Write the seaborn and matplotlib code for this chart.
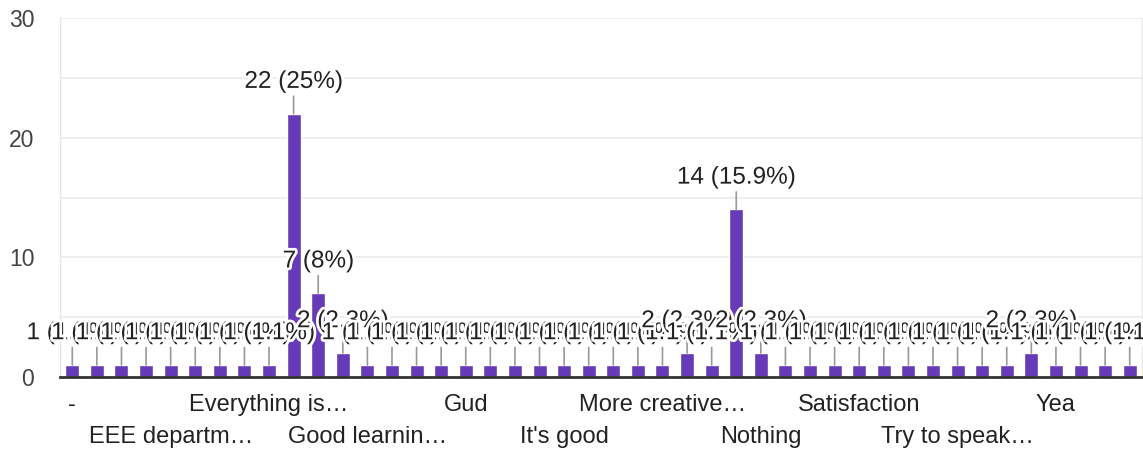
import matplotlib
matplotlib.use("Agg")
import matplotlib.pyplot as plt
import matplotlib.patheffects as pe
import seaborn as sns

# response counts, one per answer (alphabetical order as in the form summary)
counts = [1, 1, 1, 1, 1, 1, 1, 1, 1, 22,
          7, 2, 1, 1, 1, 1, 1, 1, 1, 1,
          1, 1, 1, 1, 1, 2, 1, 14, 2, 1,
          1, 1, 1, 1, 1, 1, 1, 1, 1, 2,
          1, 1, 1, 1]
respondents = 88

# only every 4th answer gets a label on the axis
tick_labels = ["-", "EEE departm…", "Everything is…", "Good learnin…", "Gud",
               "It's good", "More creative…", "Nothing", "Satisfaction",
               "Try to speak…", "Yea"]
tick_step = 4

purple = "#673ab7"

sns.set_theme(style="white")
plt.rcParams["font.family"] = ["Liberation Sans", "DejaVu Sans"]

fig = plt.figure(figsize=(11.43, 4.51), dpi=100)
ax = fig.add_axes([60 / 1143, 1 - 377 / 451, (1142 - 60) / 1143, (377 - 18) / 451])

positions = list(range(len(counts)))
sns.barplot(x=positions, y=counts, color=purple, saturation=1, width=0.57, ax=ax)

ax.set_xlim(-0.5, len(counts) - 0.5)
ax.set_ylim(0, 30)
ax.set_yticks([0, 10, 20, 30])
ax.set_yticks([5, 15, 25], minor=True)
ax.grid(axis="y", which="both", color="#ebebeb", lw=1.2)
ax.set_axisbelow(True)
ax.tick_params(axis="y", which="both", length=0, pad=18.5, labelsize=16.5, labelcolor="#444")

ticks = positions[::tick_step]
ax.set_xticks(ticks)
ax.set_xticklabels(tick_labels)
ax.tick_params(axis="x", length=0, labelsize=17, labelcolor="#222")
for k, t in enumerate(ax.xaxis.get_major_ticks()):
    t.set_pad(12.5 if k % 2 == 0 else 35.5)

for side in ["left", "right"]:
    ax.spines[side].set_color("#e6e6e6")
    ax.spines[side].set_linewidth(1)
ax.spines["top"].set_visible(False)
ax.spines["bottom"].set_color("#333")
ax.spines["bottom"].set_linewidth(2)
ax.set_xlabel("")
ax.set_ylabel("")

for i, n in enumerate(counts):
    pct = round(n / respondents * 100, 1)
    pct_txt = f"{pct:g}"
    ax.annotate(f"{n} ({pct_txt}%)", xy=(i, n), xytext=(0, 15),
                textcoords="offset points", ha="center", va="bottom",
                fontsize=17.5, color="#222",
                arrowprops=dict(arrowstyle="-", color="#999", lw=1.2,
                                shrinkA=0, shrinkB=0),
                path_effects=[pe.withStroke(linewidth=4, foreground="white")])

fig.savefig("out.png", dpi=100)
